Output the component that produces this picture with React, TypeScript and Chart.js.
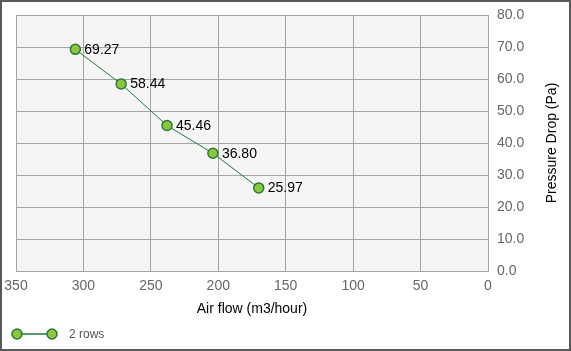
import React, { useEffect, useRef } from "react";
import { Chart, registerables } from "chart.js";

Chart.register(...registerables);

const airFlow = [306, 272, 238, 204, 170];
const pressureDrop = [69.27, 58.44, 45.46, 36.8, 25.97];
const pointLabels = ["69.27", "58.44", "45.46", "36.80", "25.97"];
const seriesName = "2 rows";
const xTitle = "Air flow (m3/hour)";
const yTitle = "Pressure Drop (Pa)";

const FONT = "'Liberation Sans', Arial, sans-serif";
const LINE = "#1f7a3c";
const FILL = "#8cc63f";
const POINT_BORDER = "#2a7a36";
const GRID = "#a4a4a4";

const decorPlugin = {
  id: "decor",
  beforeDraw(chart: any) {
    const { ctx, chartArea } = chart;
    ctx.save();
    ctx.fillStyle = "#f5f5f5";
    ctx.fillRect(chartArea.left, chartArea.top, chartArea.right - chartArea.left, chartArea.bottom - chartArea.top);
    ctx.restore();
  },
  afterDraw(chart: any) {
    const { ctx, chartArea } = chart;
    ctx.save();
    const meta = chart.getDatasetMeta(0);
    ctx.font = `14px ${FONT}`;
    ctx.fillStyle = "#000";
    ctx.textBaseline = "middle";
    ctx.textAlign = "left";
    meta.data.forEach((el: any, i: number) => {
      ctx.fillText(pointLabels[i], el.x + 9, el.y + 0.5);
    });
    ctx.textAlign = "center";
    ctx.fillText(xTitle, (chartArea.left + chartArea.right) / 2, 307);
    ctx.save();
    ctx.translate(550, (chartArea.top + chartArea.bottom) / 2);
    ctx.rotate(-Math.PI / 2);
    ctx.fillText(yTitle, 0, 0);
    ctx.restore();
    const ly = 332;
    ctx.strokeStyle = LINE;
    ctx.lineWidth = 1.5;
    ctx.beginPath();
    ctx.moveTo(15, ly);
    ctx.lineTo(50, ly);
    ctx.stroke();
    [15, 50].forEach((cx) => {
      ctx.beginPath();
      ctx.arc(cx, ly, 5, 0, Math.PI * 2);
      ctx.fillStyle = FILL;
      ctx.fill();
      ctx.lineWidth = 1.5;
      ctx.strokeStyle = POINT_BORDER;
      ctx.stroke();
    });
    ctx.font = `12px ${FONT}`;
    ctx.fillStyle = "#555";
    ctx.textAlign = "left";
    ctx.fillText(seriesName, 67, ly + 0.5);
    ctx.restore();
  },
};

const zeroPad = (s: any) => {
  s.paddingLeft = 0;
  s.paddingRight = 0;
  s.paddingTop = 0;
  s.paddingBottom = 0;
};

export default function App() {
  const ref = useRef<HTMLCanvasElement | null>(null);
  useEffect(() => {
    const canvas = ref.current!;
    const chart = new Chart(canvas, {
      type: "scatter",
      data: {
        datasets: [
          {
            label: seriesName,
            data: airFlow.map((x, i) => ({ x, y: pressureDrop[i] })),
            showLine: true,
            borderColor: LINE,
            borderWidth: 1,
            pointBackgroundColor: FILL,
            pointBorderColor: POINT_BORDER,
            pointBorderWidth: 1.5,
            pointRadius: 5,
          },
        ],
      },
      options: {
        animation: false,
        responsive: false,
        maintainAspectRatio: false,
        layout: { padding: { left: 14, top: 13, right: 0, bottom: 0 } },
        plugins: { legend: { display: false }, tooltip: { enabled: false } },
        scales: {
          x: {
            type: "linear",
            reverse: true,
            min: 0,
            max: 350,
            border: { display: true, color: GRID },
            grid: { color: GRID, drawTicks: false },
            ticks: {
              stepSize: 50,
              padding: 7,
              color: "#666",
              font: { family: FONT, size: 14 },
              maxRotation: 0,
            },
            afterFit: (s: any) => {
              s.height = 78;
              zeroPad(s);
            },
          },
          y: {
            position: "right",
            min: 0,
            max: 80,
            border: { display: true, color: GRID },
            grid: { color: GRID, drawTicks: false },
            ticks: {
              stepSize: 10,
              padding: 9,
              color: "#666",
              font: { family: FONT, size: 14 },
              callback: (v: any) => Number(v).toFixed(1),
            },
            afterFit: (s: any) => {
              s.width = 81;
              zeroPad(s);
            },
          },
        },
      },
      plugins: [decorPlugin],
    });
    return () => chart.destroy();
  }, []);
  return (
    <div
      style={{
        position: "fixed",
        left: 0,
        top: 0,
        width: 571,
        height: 351,
        boxSizing: "border-box",
        border: "2px solid #5a5a5a",
        background: "#fff",
      }}
    >
      <canvas ref={ref} width={567} height={347} style={{ display: "block", width: 567, height: 347 }} />
    </div>
  );
}
